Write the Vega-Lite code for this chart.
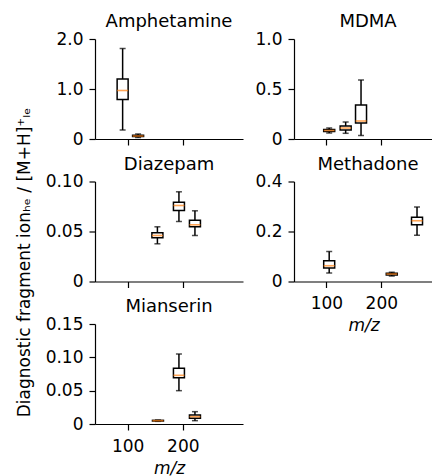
{
  "$schema": "https://vega.github.io/schema/vega-lite/v6.json",
  "padding": {"left": 15, "top": 13, "right": 0, "bottom": 0},
  "bounds": "flush",
  "columns": 2,
  "spacing": {"row": 42.5, "column": 51},
  "data": {
    "values": [
      {"drug": "Amphetamine", "mz": 91, "low": 0.18, "q1": 0.79, "med": 0.97, "q3": 1.2, "high": 1.81},
      {"drug": "Amphetamine", "mz": 119, "low": 0.03, "q1": 0.05, "med": 0.06, "q3": 0.075, "high": 0.1},
      {"drug": "MDMA", "mz": 105, "low": 0.06, "q1": 0.075, "med": 0.085, "q3": 0.095, "high": 0.11},
      {"drug": "MDMA", "mz": 135, "low": 0.057, "q1": 0.09, "med": 0.11, "q3": 0.13, "high": 0.17},
      {"drug": "MDMA", "mz": 163, "low": 0.035, "q1": 0.16, "med": 0.18, "q3": 0.34, "high": 0.59},
      {"drug": "Diazepam", "mz": 154, "low": 0.0377, "q1": 0.0437, "med": 0.046, "q3": 0.0487, "high": 0.0547},
      {"drug": "Diazepam", "mz": 193, "low": 0.06, "q1": 0.071, "med": 0.076, "q3": 0.0793, "high": 0.0897},
      {"drug": "Diazepam", "mz": 222, "low": 0.046, "q1": 0.0547, "med": 0.0567, "q3": 0.0613, "high": 0.0707},
      {"drug": "Methadone", "mz": 105, "low": 0.034, "q1": 0.054, "med": 0.063, "q3": 0.083, "high": 0.12},
      {"drug": "Methadone", "mz": 219, "low": 0.022, "q1": 0.026, "med": 0.03, "q3": 0.033, "high": 0.037},
      {"drug": "Methadone", "mz": 265, "low": 0.185, "q1": 0.227, "med": 0.243, "q3": 0.257, "high": 0.298},
      {"drug": "Mianserin", "mz": 155, "low": 0.004, "q1": 0.0045, "med": 0.005, "q3": 0.0055, "high": 0.006},
      {"drug": "Mianserin", "mz": 193, "low": 0.05, "q1": 0.0695, "med": 0.073, "q3": 0.0835, "high": 0.105},
      {"drug": "Mianserin", "mz": 222, "low": 0.005, "q1": 0.0085, "med": 0.011, "q3": 0.0135, "high": 0.0185}
    ]
  },
  "concat": [
    {
      "title": {"text": "Amphetamine"},
      "width": 148, "height": 100,
      "transform": [{"filter": "datum.drug == 'Amphetamine'"}],
      "encoding": {"x": {"field": "mz", "type": "quantitative", "scale": {"domain": [50, 300], "nice": false, "zero": false}, "axis": {"values": [100, 200], "labels": false, "title": null}}},
      "layer": [
        {"mark": {"type": "rule", "color": "black", "strokeWidth": 1.5}, "encoding": {"y": {"field": "low", "type": "quantitative", "scale": {"domain": [0, 2], "nice": false}, "axis": {"values": [0, 1, 2], "tickCount": 5, "labelExpr": "datum.value == 0 ? '0' : format(datum.value, '.1f')", "title": "Diagnostic fragment ionₕₑ / [M+H]⁺ₗₑ", "titleX": -71, "titleY": 223, "titleBaseline": "middle", "titleAngle": -90, "titleAlign": "center"}}, "y2": {"field": "high"}}},
        {"mark": {"type": "tick", "orient": "horizontal", "size": 6, "thickness": 1.5, "color": "black"}, "encoding": {"y": {"field": "low", "type": "quantitative"}}},
        {"mark": {"type": "tick", "orient": "horizontal", "size": 6, "thickness": 1.5, "color": "black"}, "encoding": {"y": {"field": "high", "type": "quantitative"}}},
        {"mark": {"type": "bar", "orient": "vertical", "size": 11, "fill": "white", "stroke": "black", "strokeWidth": 1.5}, "encoding": {"y": {"field": "q1", "type": "quantitative"}, "y2": {"field": "q3"}}},
        {"mark": {"type": "tick", "orient": "horizontal", "size": 11, "thickness": 1.6, "color": "#ff7f0e"}, "encoding": {"y": {"field": "med", "type": "quantitative"}}}
      ]
    },
    {
      "title": {"text": "MDMA", "dx": 4.5},
      "width": 139, "height": 100,
      "transform": [{"filter": "datum.drug == 'MDMA'"}],
      "encoding": {"x": {"field": "mz", "type": "quantitative", "scale": {"domain": [50, 285], "nice": false, "zero": false}, "axis": {"values": [100, 200], "labels": false, "title": null}}},
      "layer": [
        {"mark": {"type": "rule", "color": "black", "strokeWidth": 1.5}, "encoding": {"y": {"field": "low", "type": "quantitative", "scale": {"domain": [0, 1], "nice": false}, "axis": {"values": [0, 0.5, 1], "tickCount": 5, "title": null, "labelExpr": "datum.value == 0 ? '0' : format(datum.value, '.1f')"}}, "y2": {"field": "high"}}},
        {"mark": {"type": "tick", "orient": "horizontal", "size": 6, "thickness": 1.5, "color": "black"}, "encoding": {"y": {"field": "low", "type": "quantitative"}}},
        {"mark": {"type": "tick", "orient": "horizontal", "size": 6, "thickness": 1.5, "color": "black"}, "encoding": {"y": {"field": "high", "type": "quantitative"}}},
        {"mark": {"type": "bar", "orient": "vertical", "size": 11, "fill": "white", "stroke": "black", "strokeWidth": 1.5}, "encoding": {"y": {"field": "q1", "type": "quantitative"}, "y2": {"field": "q3"}}},
        {"mark": {"type": "tick", "orient": "horizontal", "size": 11, "thickness": 1.6, "color": "#ff7f0e"}, "encoding": {"y": {"field": "med", "type": "quantitative"}}}
      ]
    },
    {
      "title": {"text": "Diazepam"},
      "width": 148, "height": 100,
      "transform": [{"filter": "datum.drug == 'Diazepam'"}],
      "encoding": {"x": {"field": "mz", "type": "quantitative", "scale": {"domain": [50, 300], "nice": false, "zero": false}, "axis": {"values": [100, 200], "labels": false, "title": null}}},
      "layer": [
        {"mark": {"type": "rule", "color": "black", "strokeWidth": 1.5}, "encoding": {"y": {"field": "low", "type": "quantitative", "scale": {"domain": [0, 0.1], "nice": false}, "axis": {"values": [0, 0.05, 0.1], "tickCount": 5, "title": null, "labelExpr": "datum.value == 0 ? '0' : format(datum.value, '.2f')"}}, "y2": {"field": "high"}}},
        {"mark": {"type": "tick", "orient": "horizontal", "size": 6, "thickness": 1.5, "color": "black"}, "encoding": {"y": {"field": "low", "type": "quantitative"}}},
        {"mark": {"type": "tick", "orient": "horizontal", "size": 6, "thickness": 1.5, "color": "black"}, "encoding": {"y": {"field": "high", "type": "quantitative"}}},
        {"mark": {"type": "bar", "orient": "vertical", "size": 11, "fill": "white", "stroke": "black", "strokeWidth": 1.5}, "encoding": {"y": {"field": "q1", "type": "quantitative"}, "y2": {"field": "q3"}}},
        {"mark": {"type": "tick", "orient": "horizontal", "size": 11, "thickness": 1.6, "color": "#ff7f0e"}, "encoding": {"y": {"field": "med", "type": "quantitative"}}}
      ]
    },
    {
      "title": {"text": "Methadone", "dx": 4.5},
      "width": 139, "height": 100,
      "transform": [{"filter": "datum.drug == 'Methadone'"}],
      "encoding": {"x": {"field": "mz", "type": "quantitative", "scale": {"domain": [50, 285], "nice": false, "zero": false}, "axis": {"values": [100, 200], "title": "m/z"}}},
      "layer": [
        {"mark": {"type": "rule", "color": "black", "strokeWidth": 1.5}, "encoding": {"y": {"field": "low", "type": "quantitative", "scale": {"domain": [0, 0.4], "nice": false}, "axis": {"values": [0, 0.2, 0.4], "tickCount": 5, "title": null, "labelExpr": "datum.value == 0 ? '0' : format(datum.value, '.1f')"}}, "y2": {"field": "high"}}},
        {"mark": {"type": "tick", "orient": "horizontal", "size": 6, "thickness": 1.5, "color": "black"}, "encoding": {"y": {"field": "low", "type": "quantitative"}}},
        {"mark": {"type": "tick", "orient": "horizontal", "size": 6, "thickness": 1.5, "color": "black"}, "encoding": {"y": {"field": "high", "type": "quantitative"}}},
        {"mark": {"type": "bar", "orient": "vertical", "size": 11, "fill": "white", "stroke": "black", "strokeWidth": 1.5}, "encoding": {"y": {"field": "q1", "type": "quantitative"}, "y2": {"field": "q3"}}},
        {"mark": {"type": "tick", "orient": "horizontal", "size": 11, "thickness": 1.6, "color": "#ff7f0e"}, "encoding": {"y": {"field": "med", "type": "quantitative"}}}
      ]
    },
    {
      "title": {"text": "Mianserin"},
      "width": 148, "height": 100,
      "transform": [{"filter": "datum.drug == 'Mianserin'"}],
      "encoding": {"x": {"field": "mz", "type": "quantitative", "scale": {"domain": [50, 300], "nice": false, "zero": false}, "axis": {"values": [100, 200], "title": "m/z"}}},
      "layer": [
        {"mark": {"type": "rule", "color": "black", "strokeWidth": 1.5}, "encoding": {"y": {"field": "low", "type": "quantitative", "scale": {"domain": [0, 0.15], "nice": false}, "axis": {"values": [0, 0.05, 0.1, 0.15], "tickCount": 5, "title": null, "labelExpr": "datum.value == 0 ? '0' : format(datum.value, '.2f')"}}, "y2": {"field": "high"}}},
        {"mark": {"type": "tick", "orient": "horizontal", "size": 6, "thickness": 1.5, "color": "black"}, "encoding": {"y": {"field": "low", "type": "quantitative"}}},
        {"mark": {"type": "tick", "orient": "horizontal", "size": 6, "thickness": 1.5, "color": "black"}, "encoding": {"y": {"field": "high", "type": "quantitative"}}},
        {"mark": {"type": "bar", "orient": "vertical", "size": 11, "fill": "white", "stroke": "black", "strokeWidth": 1.5}, "encoding": {"y": {"field": "q1", "type": "quantitative"}, "y2": {"field": "q3"}}},
        {"mark": {"type": "tick", "orient": "horizontal", "size": 11, "thickness": 1.6, "color": "#ff7f0e"}, "encoding": {"y": {"field": "med", "type": "quantitative"}}}
      ]
    }
  ],
  "config": {
    "font": "DejaVu Sans",
    "view": {"stroke": null},
    "axis": {"grid": false, "domainColor": "black", "tickColor": "black", "domainWidth": 1.2, "tickWidth": 1.2, "tickSize": 6, "labelFontSize": 17, "labelColor": "black", "labelFont": "DejaVu Sans", "labelFlush": false, "labelOverlap": false, "titleFontSize": 17, "titleFontWeight": "normal", "titleColor": "black", "titleFont": "DejaVu Sans"},
    "axisX": {"labelPadding": 8, "titleFontStyle": "italic", "titlePadding": 6},
    "axisY": {"labelPadding": 6},
    "title": {"fontSize": 18, "fontWeight": "normal", "color": "black", "font": "DejaVu Sans", "frame": "group", "baseline": "alphabetic", "offset": -1}
  }
}
